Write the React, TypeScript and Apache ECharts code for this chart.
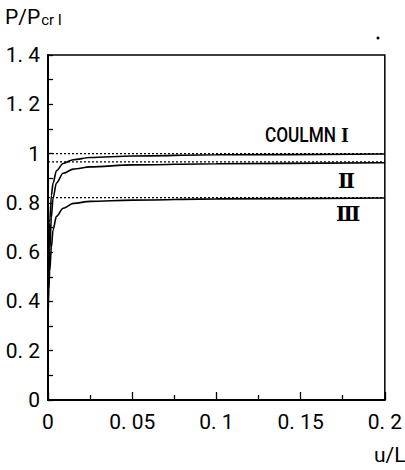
import React, { useEffect, useRef } from "react";
import * as echarts from "echarts";

const uValues = [0, 0.0005, 0.001, 0.002, 0.003, 0.005, 0.009, 0.015, 0.025, 0.05, 0.1, 0.2];
const columnI = [0.36, 0.6, 0.72, 0.83, 0.88, 0.93, 0.96, 0.975, 0.984, 0.99, 0.995, 0.998];
const columnII = [0.34, 0.5, 0.6, 0.74, 0.82, 0.88, 0.92, 0.937, 0.946, 0.954, 0.959, 0.963];
const columnIII = [0.32, 0.45, 0.52, 0.62, 0.69, 0.745, 0.778, 0.798, 0.806, 0.811, 0.816, 0.82];
const asymptotes = [1.0, 0.966, 0.821];
const xTicks = [0, 0.05, 0.1, 0.15, 0.2];
const yTicks = [0, 0.2, 0.4, 0.6, 0.8, 1, 1.2, 1.4];

const FONT = "Roboto, 'Liberation Sans', sans-serif";

function fmt(v: number): string {
  if (v === 0) return "0";
  if (Math.abs(v - 1) < 1e-9) return "1";
  const s = String(+v.toFixed(3));
  return s.replace(".", ". ");
}

export default function App() {
  const ref = useRef<HTMLDivElement>(null);
  useEffect(() => {
    if (!ref.current) return;
    const chart = echarts.init(ref.current, undefined, { renderer: "svg" });
    const mk = (vals: number[]) => uValues.map((u, i) => [u, vals[i]]);
    const curve = (name: string, vals: number[]) => ({
      name,
      type: "line",
      data: mk(vals),
      showSymbol: false,
      smooth: 0.3,
      smoothMonotone: "x",
      lineStyle: { color: "#000", width: 1.6 },
      z: 3,
    });
    const dotted = (v: number, i: number) => ({
      name: "asym" + i,
      type: "line",
      data: [[0, v], [0.2, v]],
      showSymbol: false,
      lineStyle: { color: "#000", width: 1.2, type: [2, 2] },
      z: 2,
    });
    chart.setOption({
      animation: false,
      backgroundColor: "#fff",
      grid: {
        left: 48,
        right: 18,
        top: 55,
        bottom: 70,
        show: true,
        borderColor: "#000",
        borderWidth: 1.5,
      },
      xAxis: {
        type: "value",
        min: 0,
        max: 0.2,
        interval: 0.05,
        axisLine: { lineStyle: { color: "#000", width: 2 } },
        axisTick: { inside: true, length: 8, lineStyle: { color: "#000", width: 1.3 } },
        minorTick: { show: true, splitNumber: 2, length: 5, lineStyle: { color: "#000", width: 1.3 } },
        splitLine: { show: false },
        axisLabel: {
          color: "#000",
          fontSize: 21,
          fontFamily: FONT,
          margin: 11,
          formatter: (v: number) => fmt(v),
        },
      },
      yAxis: {
        type: "value",
        min: 0,
        max: 1.4,
        interval: 0.2,
        axisLine: { show: true, lineStyle: { color: "#000", width: 2 } },
        axisTick: { show: true, inside: true, length: 5, lineStyle: { color: "#000", width: 1.3 } },
        minorTick: { show: true, splitNumber: 2, length: 5, lineStyle: { color: "#000", width: 1.3 } },
        splitLine: { show: false },
        axisLabel: {
          color: "#000",
          fontSize: 21,
          fontFamily: FONT,
          margin: 8,
          formatter: (v: number) => fmt(v),
        },
      },
      series: [
        curve("I", columnI),
        curve("II", columnII),
        curve("III", columnIII),
        ...asymptotes.map((v, i) => dotted(v, i)),
      ],
      graphic: [
        {
          type: "text",
          left: 5,
          top: 6,
          style: {
            text: "{a|P/P}{b|cr I}",
            rich: {
              a: { fontSize: 21, fontFamily: FONT, fill: "#000", verticalAlign: "bottom" },
              b: { fontSize: 15, fontFamily: FONT, fill: "#000", padding: [12, 0, 0, 1], verticalAlign: "bottom" },
            },
          },
        },
        {
          type: "text",
          left: 374,
          top: 444,
          style: { text: "u/L", fontSize: 21, fontFamily: FONT, fill: "#000" },
        },
        {
          type: "text",
          x: 265,
          y: 124,
          scaleX: 0.82,
          style: { text: "COULMN", fontSize: 21, fontFamily: FONT, fill: "#000", fontWeight: 500 },
        },
        {
          type: "text",
          x: 341,
          y: 125,
          style: { text: "I", fontSize: 20, fontFamily: "'Liberation Serif', serif", fill: "#000", fontWeight: "bold" },
        },
        {
          type: "text",
          x: 338,
          y: 171,
          style: { text: "\u2161", fontSize: 20, fontFamily: "'DejaVu Serif', serif", fill: "#000", fontWeight: "bold" },
        },
        {
          type: "text",
          x: 336,
          y: 204,
          style: { text: "\u2162", fontSize: 20, fontFamily: "'DejaVu Serif', serif", fill: "#000", fontWeight: "bold" },
        },
        {
          type: "circle",
          shape: { cx: 378, cy: 38, r: 1.5 },
          style: { fill: "#000" },
        },
      ],
    });
    return () => chart.dispose();
  }, []);
  return (
    <div
      ref={ref}
      style={{ position: "absolute", left: 0, top: 0, width: 405, height: 470 }}
    />
  );
}
